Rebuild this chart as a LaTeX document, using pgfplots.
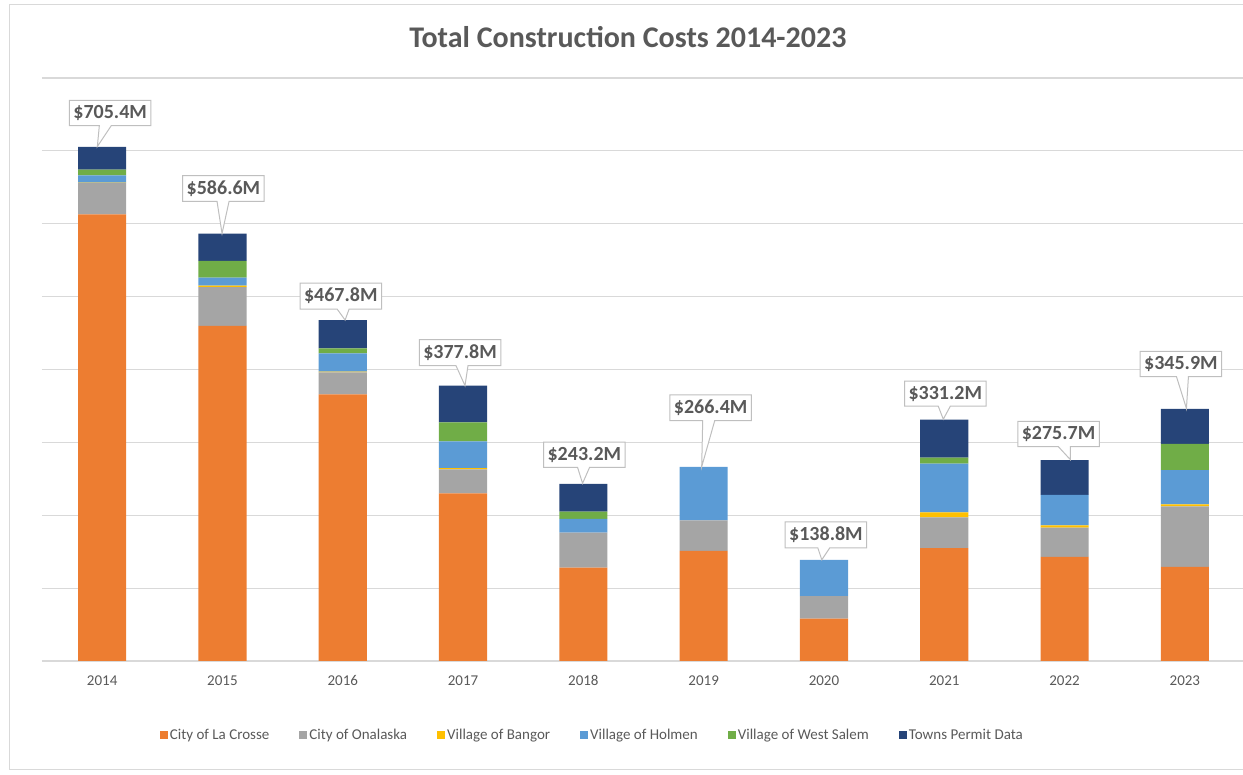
\documentclass[border=0pt]{standalone}
\usepackage{fontspec}
\setmainfont{Carlito}
\usepackage{pgfplots}
\usepackage{pgfplotstable}
\pgfplotsset{compat=1.18}
\usetikzlibrary{shapes.callouts}
\definecolor{cOr}{HTML}{ED7D31}
\definecolor{cGr}{HTML}{A5A5A5}
\definecolor{cYe}{HTML}{FFC000}
\definecolor{cBl}{HTML}{5B9BD5}
\definecolor{cGn}{HTML}{70AD47}
\definecolor{cNv}{HTML}{264478}
\definecolor{txt}{HTML}{595959}
\definecolor{gridc}{HTML}{D9D9D9}
\definecolor{boxc}{HTML}{BFBFBF}
\pgfplotstableread{
x orange gray bangor holmen green navy total px py qy
0 613 43 0.4 10 8 31 705.4 -8 -34 -21
1 460 53 2 11 23 37.6 586.6 -1 -45 -32
2 366 30 1 25 7 38.8 467.8 2 -24 -11
3 230 33 1.5 37 26 50.3 377.8 3 -33 -20
4 128 48 0 19 10 38.2 243.2 -1 -29 -16
5 151 42 0 73.4 0 0 266.4 -7 -59 -46
6 58 31 0 49.8 0 0 138.8 -2 -25 -12
7 155 42 7 67 8 52.2 331.2 -1 -26 -13
8 143 40 3 42 0 47.7 275.7 6 -26 -13
9 129 83 3 47 36 47.9 345.9 4 -45 -32
}\data
\pgfplotsset{
  common/.style={at={(42pt,114pt)}, anchor=south west,
    scale only axis, width=1203pt, height=583pt,
    xmin=-0.5, xmax=9.5, ymin=0, ymax=800},
}
\begin{document}
\begin{tikzpicture}
\path[use as bounding box] (0,0) rectangle (1243pt,775pt);
\draw[gridc, line width=1pt] (9pt,5pt) rectangle (1260pt,770pt);
\begin{axis}[
  common,
  ybar stacked, bar width=0.4,
  xtick={0,...,9},
  xticklabels={2014,2015,2016,2017,2018,2019,2020,2021,2022,2023},
  ytick={0,100,...,800}, yticklabels={},
  ymajorgrids, grid style={gridc, line width=1.2pt},
  major tick length=0pt,
  axis x line*=bottom, axis y line*=left,
  axis line style={draw=none},
  xticklabel style={font=\fontsize{15}{17}\selectfont, text=txt, yshift=-11pt},
  title={Total Construction Costs 2014-2023},
  title style={font=\bfseries\fontsize{30}{34}\selectfont, text=txt, at={(0.487,1)}, anchor=center, yshift=35pt},
  legend columns=6,
  legend style={draw=none, fill=none, at={(0.4575,-0.127)}, anchor=center,
    font=\fontsize{15}{17}\selectfont, text=txt,
    /tikz/every even column/.append style={column sep=28pt}},
  sq/.style={legend image code/.code={\fill[##1] (0pt,-4pt) rectangle (8pt,4pt);}},
]
\addplot[fill=cOr, draw=none, sq] table[x=x, y=orange]{\data};
\addplot[fill=cGr, draw=none, sq] table[x=x, y=gray]{\data};
\addplot[fill=cYe, draw=none, sq] table[x=x, y=bangor]{\data};
\addplot[fill=cBl, draw=none, sq] table[x=x, y=holmen]{\data};
\addplot[fill=cGn, draw=none, sq] table[x=x, y=green]{\data};
\addplot[fill=cNv, draw=none, sq] table[x=x, y=navy]{\data};
\legend{City of La Crosse, City of Onalaska, Village of Bangor, Village of Holmen, Village of West Salem, Towns Permit Data}
\end{axis}
\begin{axis}[common, hide axis, clip=false]
\addplot[only marks, mark=none,
  visualization depends on={\thisrow{px} \as \px},
  visualization depends on={\thisrow{py} \as \py},
  visualization depends on={\thisrow{qy} \as \qy},
  point meta=explicit symbolic,
  nodes near coords={\$\pgfplotspointmeta M},
  every node near coord/.append style={anchor=center, xshift=-\px pt, yshift=-\py pt,
    rectangle callout, callout relative pointer={(\px pt,\qy pt)}, callout pointer width=12pt,
    fill=white, draw=boxc, line width=1pt, text=txt,
    font=\bfseries\fontsize{20}{22}\selectfont, inner xsep=4pt, inner ysep=5pt}
] table[x=x, y=total, meta=total]{\data};
\end{axis}
\end{tikzpicture}
\end{document}
